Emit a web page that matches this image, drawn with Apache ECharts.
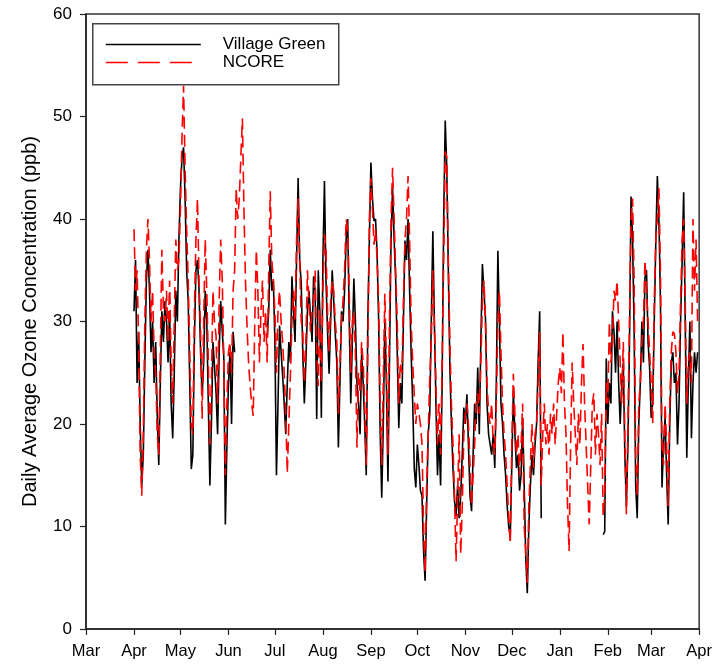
<!DOCTYPE html>
<html>
<head>
<meta charset="utf-8">
<script src="https://cdn.jsdelivr.net/npm/echarts@6/dist/echarts.min.js"></script>
<style>
  html, body { margin: 0; padding: 0; background: #fff; }
  #chart { width: 715px; height: 664px; }
</style>
</head>
<body>
<div id="chart"></div>
<script>
// Month boundaries, counted in days from 1 March, and their tick labels
const monthDays = [0, 31, 61, 92, 122, 153, 184, 214, 245, 275, 306, 337, 365, 396];
const monthLabels = ['Mar', 'Apr', 'May', 'Jun', 'Jul', 'Aug', 'Sep', 'Oct', 'Nov', 'Dec', 'Jan', 'Feb', 'Mar', 'Apr'];
// first daily value is 1 April
const firstDay = 31;

// Daily average ozone (ppb), Village Green monitor (null = no data)
const villageGreen = [
  // Apr
  31,36,24,29,20,14,17,26,34,37,33,27,30,24,28,21,16,24,31,28,32,30,26,31,22,18.6,25,33,30,38,
  // May
  43,46,47,42,35,32,24,15.6,17,28,35,36,33,27,22.7,26,33,30,22,14,20,28,25.6,23,19,27,32,29,26.6,10.2,18,
  // Jun
  24,27,20,29,27,null,null,null,null,null,null,null,null,null,null,null,null,null,null,null,null,null,null,null,null,28.6,31,37,33,
  // Jul
  34,28,15,22,29.6,27,24.7,22,19,24,28,26,34.4,31,28,36,44,36,33.7,27,22,26,31,33,30.5,28,34.4,33,20.5,35,31,
  // Aug
  20.6,36,43.7,34,29,24.9,30,35,32,28.8,26,17.7,24,31,30,33,38,40,30,22,28,34.2,30,24,22,19,26.8,24,20,15,30,
  // Sep
  38,45.5,42,39.8,40,36.6,30,19,12.8,20,30,24,14.4,26,38,43,38,34,27,19.6,24,22,30,37.9,36,40,33,26.8,22,15.7,
  // Oct
  13.8,18,16,13.5,13,7.6,4.7,12,19,21,30,38.8,30,22,15,19,14,24,40,49.6,45,35,25.5,20,15.7,12.5,11,14,10.8,13,
  // Nov
  17,21.6,20,22.9,18,13,11.5,17,22,20,25.5,19,28,35.6,33,30.3,22,19,18,17,19,15.7,24,36.9,30,22,20,17,15,12,
  // Dec
  10,9,16,23.2,19,15.7,17,13.5,15,20.6,14,7,3.5,10,14,17,15,18,20,26,31,10.8,null,null,null,null,null,null,null,null,null,
  // Jan
  null,null,null,null,null,null,null,null,null,null,null,null,null,null,null,null,null,null,null,null,null,null,null,null,null,null,null,null,null,null,
  // Feb
  9.2,9.5,26.4,20,24,22,31,29,25,30,24,20,24,26,17,12,18,28,42.2,38,29,14,10.8,20,24,30,26,34.3,
  // Mar
  35,28,25.5,20.6,22,30,37.8,44.2,40,32,13.8,18,20.6,15,10.2,20,26,27,24,25,18,22,30,36,42.6,30,16.7,24,30,18.6,24,27,25,27
];

// Daily average ozone (ppb), NCORE monitor
const ncore = [
  // Apr
  39,33,35,28,17,13,19,30,37,40,36,30,33,27,25,19,17,27,37,31,30,33,28,34,26,22,30,38,35,36,
  // May
  41,48,53,45,39,34,27,20,19,31,38,42,34,29,20.5,30,38,33,26,18,24,33,30,28.6,22,32,38,34,26,15,22,
  // Jun
  27,28,25,33,35,43,40,42,46,49.8,41,34,29.5,26,23.7,22,20.8,30,37,33,26,31,34,28,31,26,35,42.7,36,
  // Jul
  34,31,25,31,33,30,28,25,21,15.2,20,24.7,30,33,30,38,42,36,30,29,24,28,35,32,29,31,32,35,27,23.7,31.3,
  // Aug
  24,33,38.5,37,31,27,32,34,33,30,28,21,26,30,32,35,40,39,33,25,30,31,27,17.7,25,23,28,26,22,16,27,
  // Sep
  40,44,41,37.5,39,36,32,22,16,24,32.7,26,17,30,40,45,40,35,30,22,26,25,32,38,40,44.2,38,30,26,22.9,
  // Oct
  20,22,22,20,18,10,5.5,14,19,24.5,28,35,35,24,18,22,17,26,36,46.6,46,36,28,22,18,13,6.6,13,19,7.3,
  // Nov
  12,19,21,22,20,16,12,15,18,22,23,21,26,32,34,30,24,21,20,22,18,17,22,30,33,27,22,19,17,14,
  // Dec
  11,8.3,18,24.9,21,17,19,15,18,22,10,7.5,4.5,12,16,20,15.7,19,20,24,29,14,19,22,18,20,17,21,19,22,18,
  // Jan
  21,24,25.5,23,29,22,19,12,7.6,18,26,22,19,16,21,18,24,27.8,22,18,14,10.2,16,22,23,17,21,19,16,21,
  // Feb
  11,13,24,22,30,26,28,33,32,34,30,26,22,28,19,11.2,20,30,40,42,34,17,13,22,23.9,28,30,36,
  // Mar
  36,30,27,24,20,32,38,40,43,35,18,16,22,18,12,22,27,29,28.8,27,23,25,32,38,40,32,22,26,27,24,40,33,38,30
];

const FONT = 'Liberation Sans, Arial, sans-serif';

function toPoints(values) {
  return values.map((v, i) => [firstDay + i, v === null ? '-' : v]);
}

const chart = echarts.init(document.getElementById('chart'), null, { renderer: 'canvas' });

chart.setOption({
  animation: false,
  backgroundColor: '#fff',
  grid: {
    left: 86, right: 13, top: 14, bottom: 35,
    show: true, borderColor: '#333', borderWidth: 1.5, backgroundColor: 'transparent'
  },
  xAxis: {
    type: 'value',
    min: 0,
    max: 396,
    axisLine: { show: true, onZero: false, lineStyle: { color: '#222', width: 1.5 } },
    axisTick: { show: true, customValues: monthDays, length: 6, lineStyle: { color: '#222', width: 1.2 } },
    axisLabel: {
      customValues: monthDays,
      formatter: v => monthLabels[monthDays.indexOf(v)],
      margin: 14,
      fontSize: 16.5,
      color: '#000',
      fontFamily: FONT
    },
    splitLine: { show: false }
  },
  yAxis: {
    type: 'value',
    min: 0,
    max: 60,
    interval: 10,
    name: 'Daily Average Ozone Concentration (ppb)',
    nameLocation: 'middle',
    nameGap: 46,
    nameTextStyle: { fontSize: 20, color: '#000', fontFamily: FONT },
    axisLine: { show: true, lineStyle: { color: '#222', width: 1.5 } },
    axisTick: { show: true, length: 6, lineStyle: { color: '#222', width: 1.2 } },
    axisLabel: { margin: 14, fontSize: 17, color: '#000', fontFamily: FONT },
    splitLine: { show: false }
  },
  legend: {
    orient: 'vertical',
    left: 105,
    top: 36,
    padding: 0,
    itemWidth: 95,
    itemHeight: 14,
    itemGap: 1,
    selectedMode: false,
    // line-only keys: hide the point marker, keep the stroke
    itemStyle: { opacity: 0 },
    data: [
      { name: 'Village Green', lineStyle: { opacity: 1, color: '#000', width: 1.6 } },
      { name: 'NCORE', lineStyle: { opacity: 1, color: '#ff0000', width: 1.6, type: [22, 10] } }
    ],
    textStyle: { fontSize: 17, color: '#000', fontFamily: FONT, padding: [0, 0, 0, 17] }
  },
  graphic: [{
    type: 'rect',
    left: 92,
    top: 23,
    z: 3,
    shape: { width: 246, height: 61 },
    style: { fill: '#fff', stroke: '#444', lineWidth: 1.5 }
  }],
  series: [
    {
      name: 'Village Green',
      type: 'line',
      data: toPoints(villageGreen),
      symbol: 'none',
      connectNulls: false,
      lineStyle: { color: '#000', width: 1.6 },
      itemStyle: { color: '#000' }
    },
    {
      name: 'NCORE',
      type: 'line',
      data: toPoints(ncore),
      symbol: 'none',
      connectNulls: false,
      lineStyle: { color: '#ff0000', width: 1.6, type: [12, 6] },
      itemStyle: { color: '#ff0000' }
    }
  ]
});
</script>
</body>
</html>
